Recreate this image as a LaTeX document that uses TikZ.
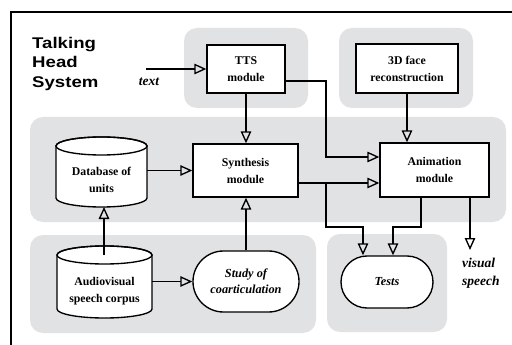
\documentclass[tikz,border=0pt]{standalone}
\usepackage{fontspec}
\setmainfont{Liberation Serif}
\newfontfamily\titlefont{Liberation Sans}
\usetikzlibrary{arrows.meta,shapes.misc}
\definecolor{bggray}{RGB}{225,226,228}
\begin{document}
\begin{tikzpicture}[x=1pt,y=-1pt,
  bg/.style={fill=bggray,rounded corners=13pt},
  box/.style={draw,line width=1.35pt,fill=white,align=center,inner sep=0pt,font=\fontsize{11.8}{17}\selectfont\bfseries},
  ital/.style={draw,line width=1.35pt,fill=white,rounded rectangle,align=center,inner sep=0pt,font=\fontsize{12.3}{16}\selectfont\bfseries\itshape},
  cylbody/.style={draw,line width=1.35pt,fill=white},
  cyltext/.style={align=center,inner sep=0pt,font=\fontsize{11.8}{17}\selectfont\bfseries},
  lbl/.style={inner sep=0pt,align=left,font=\fontsize{13.5}{18}\selectfont\bfseries\itshape},
  arr/.style={line width=1.35pt,-{Triangle[open,length=12pt,width=10.5pt]}},
  ttl/.style={inner sep=0pt,align=left,xscale=1.2,transform shape,font=\titlefont\bfseries\fontsize{15.5}{19.3}\selectfont}
]
\fill[white] (0,0) rectangle (512,345);
\useasboundingbox (0,0) rectangle (512,345);
\draw[line width=1.35pt] (11,345) -- (11,12) -- (512,12);

% grey groups
\path[bg] (184,28) rectangle (308,108);
\path[bg] (339,28) rectangle (473,108);
\path[bg] (30,117) rectangle (506,222);
\path[bg] (30,235) rectangle (316,333);
\path[bg] (327,234) rectangle (447,332);

% title
\node[ttl,anchor=north west] (title) at (32,37) {Talking\\Head\\System};

% cylinders
\path[cylbody] (56,146) -- (56,198) arc[start angle=180,end angle=360,x radius=45.5pt,y radius=9pt] -- (147,146) arc[start angle=0,end angle=180,x radius=45.5pt,y radius=9pt] -- cycle;
\draw[line width=1.35pt] (101.5,146) ellipse[x radius=45.5pt,y radius=9pt];
\path[cylbody] (57,255) -- (57,309) arc[start angle=180,end angle=360,x radius=47.5pt,y radius=9pt] -- (152,255) arc[start angle=0,end angle=180,x radius=47.5pt,y radius=9pt] -- cycle;
\draw[line width=1.35pt] (104.5,255) ellipse[x radius=47.5pt,y radius=9pt];

% nodes
\node[box,minimum width=78pt,minimum height=48pt] (tts) at (246,69) {TTS\\module};
\node[box,minimum width=102pt,minimum height=49pt] (face) at (407,68.5) {3D face\\reconstruction};
\node[box,minimum width=105pt,minimum height=53pt] (synth) at (245.5,170.5) {Synthesis\\module};
\node[box,minimum width=109pt,minimum height=54pt] (anim) at (434.5,170) {Animation\\module};
\node[cyltext,minimum width=91pt,minimum height=55pt] (db) at (101.5,179.5) {Database of\\units};
\node[cyltext,minimum width=95pt,minimum height=54pt] (corpus) at (104.5,291) {Audiovisual\\speech corpus};
\node[ital,minimum width=106pt,minimum height=61pt] (study) at (246,281.5) {Study of\\coarticulation};
\node[ital,minimum width=92pt,minimum height=52pt] (tests) at (387,282) {Tests};

% labels
\node[lbl] (textlbl) at (149,82) {text};
\node[lbl,anchor=north west] (vslbl) at (462,258) {visual\\speech};

% connectors
\coordinate (textin) at (146,69);
\draw[arr] (textin) -- (tts.west);
\draw[arr] (tts.south) -- (tts.south |- synth.north);
\coordinate (a1) at (326,157);
\draw[arr] ([yshift=-12pt]tts.east) -| (a1) -- (a1 -| anim.west);
\draw[arr] (face.south) -- (face.south |- anim.north);
\draw[arr] (db.east |- synth.west) -- (synth.west);
\draw[arr] ([yshift=-12.5pt]synth.east) coordinate (s) -- (s -| anim.west);
\coordinate (br) at (326,183);
\draw[arr] (br) -- (326,227) -- (363,227) -- ([xshift=-24pt]tests.north);
\draw[arr] ([xshift=-13.5pt]anim.south) -- (421,227) -- (393,227) -- ([xshift=6pt]tests.north);
\coordinate (vs) at (470,250);
\draw[arr] ([xshift=35.5pt]anim.south) -- (vs);
\draw[arr] ([yshift=9pt]corpus.north -| 104,0) -- (104,207);
\draw[arr] (corpus.east |- study.west) -- (study.west);
\draw[arr] (study.north) -- (study.north |- synth.south);
\end{tikzpicture}
\end{document}
